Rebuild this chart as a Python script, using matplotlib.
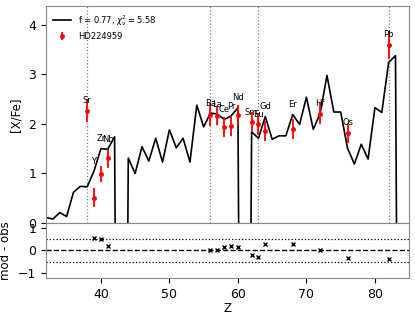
import numpy as np
import matplotlib
matplotlib.use("Agg")
import matplotlib.pyplot as plt

# Model abundances [X/Fe] vs Z (very negative = no model value)
model_z = list(range(32, 85))
model_val = [0.11, 0.08, 0.21, 0.13, 0.62, 0.74, 0.73, 1.05, 1.50, 1.49,
             1.74, -20.0, 1.31, 1.00, 1.54, 1.25, 1.71, 1.23, 1.88, 1.52,
             1.71, 1.23, 2.38, 1.94, 2.22, 2.20, 2.09, 2.16, 2.33, -20.0,
             1.84, 1.71, 2.15, 1.69, 1.76, 1.76, 2.19, 1.99, 2.54, 1.89,
             2.21, 2.98, 2.24, 2.24, 1.51, 1.19, 1.59, 1.29, 2.33, 2.23,
             3.24, 3.38, -20.0]

# Observations HD224959
obs_el = ["Sr", "Y", "Zr", "Nb", "Ba", "La", "Ce", "Pr", "Nd", "Sm", "Eu",
          "Gd", "Er", "Hf", "Os", "Pb"]
obs_z = [38, 39, 40, 41, 56, 57, 58, 59, 60, 62, 63, 64, 68, 72, 76, 82]
obs_val = [2.27, 0.51, 0.99, 1.31, 2.19, 2.17, 1.94, 1.96, 2.18, 2.04, 2.00,
           1.86, 1.90, 2.21, 1.82, 3.60]
obs_err = [0.24, 0.19, 0.17, 0.19, 0.23, 0.20, 0.20, 0.20, 0.20, 0.20, 0.22,
           0.20, 0.20, 0.22, 0.20, 0.28]

vlines_z = [38, 56, 63, 82]
legend_model = r"f = 0.77, $\chi^2_\nu = 5.58$"
legend_obs = "HD224959"

fig = plt.figure(figsize=(4.15, 3.19), dpi=100)
ax = fig.add_axes([0.111, 0.301, 0.875, 0.680])
axr = fig.add_axes([0.111, 0.1285, 0.875, 0.1725], sharex=ax)

mz = np.array(model_z)
mv = np.array(model_val)
ax.plot(mz, mv, color="black", lw=1.2, label=legend_model)
ax.errorbar(obs_z, obs_val, yerr=obs_err, fmt="o", color="red", ms=2.5,
            elinewidth=1.3, capsize=0, label=legend_obs)
for z in vlines_z:
    ax.axvline(z, color="gray", ls=":", lw=0.9, zorder=0)

model_at = {z: v for z, v in zip(model_z, model_val)}
for el, z, v in zip(obs_el, obs_z, obs_val):
    top = max(v, model_at[z])
    ax.text(z, top + 0.2, el, ha="center", va="center", fontsize=6)

ax.set_xlim(32, 85)
ax.set_ylim(0, 4.38)
ax.set_yticks([0, 1, 2, 3, 4])
ax.set_ylabel("[X/Fe]", fontsize=8.5)
ax.tick_params(labelsize=9, labelbottom=False)
leg = ax.legend(loc="upper left", fontsize=6, frameon=False,
                handlelength=2.2, borderaxespad=0.4)

resid = [model_at[z] - v for z, v in zip(obs_z, obs_val)]
axr.plot(obs_z, resid, "x", color="black", ms=3, mew=1.0)
axr.axhline(0, color="black", ls="--", lw=1.0)
axr.axhline(0.5, color="black", ls=":", lw=0.9)
axr.axhline(-0.5, color="black", ls=":", lw=0.9)
axr.set_ylim(-1.2, 1.2)
axr.set_yticks([-1, 0, 1])
axr.set_xticks([40, 50, 60, 70, 80])
axr.set_xlabel("Z", fontsize=8.5, labelpad=1)
axr.set_ylabel("mod - obs", fontsize=8.5)
axr.tick_params(labelsize=9)

for a in (ax, axr):
    for s in a.spines.values():
        s.set_color("#888888")

fig.savefig("out.png", dpi=100)
